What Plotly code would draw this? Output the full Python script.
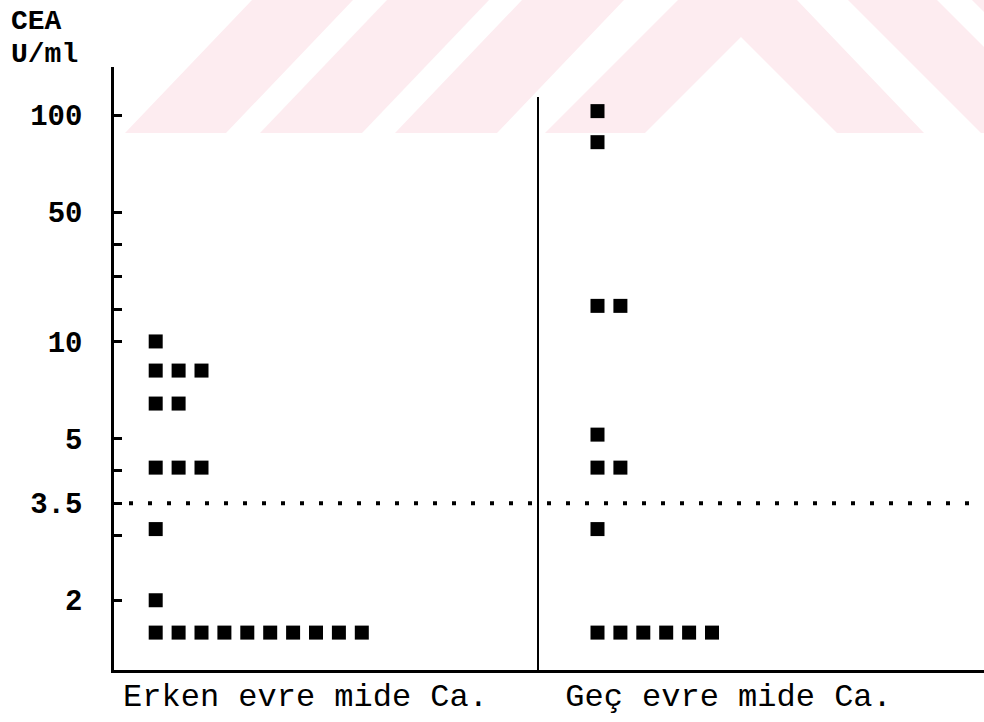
import numpy as np
import plotly.graph_objects as go

# ---------------- data (CEA, U/ml) ----------------
groups = ["Erken evre mide Ca.", "Geç evre mide Ca."]
early_values = [10, 8.5, 8.5, 8.5, 6.8, 6.8, 4.1, 4.1, 4.1, 3.1, 2,
                1.5, 1.5, 1.5, 1.5, 1.5, 1.5, 1.5, 1.5, 1.5, 1.5]
late_values = [102, 86, 21, 21, 5.2, 4.1, 4.1, 3.1,
               1.5, 1.5, 1.5, 1.5, 1.5, 1.5]
cutoff = 3.5

tick_values = [100, 50, 40, 30, 20, 10, 5, 4, 3.5, 3, 2]
tick_labels = ["100", "50", "", "", "", "10", "5", "", "3.5", "", "2"]
y_title = ["CEA", "U/ml"]

# --------------- the figure's own (broken) value scale ---------------
scale_values = [1, 2, 3, 4, 5, 10, 20, 30, 40, 50, 100, 200]
scale_rows = [17, 15, 13, 11, 10, 7, 6, 5, 4, 3, 0, -6]


def scale(v):
    return np.interp(np.asarray(v, dtype=float), scale_values, scale_rows)


# --------------- layout constants (pixels) ---------------
W, H = 984, 722
L, R, T, B = 114, 0, 67, 52
PW, PH = W - L - R, H - T - B
SLOT = 22.9
ROW0_PX, ROW_PX = 115, 32.35
x_max = PW / SLOT
y_top = (T - ROW0_PX) / ROW_PX
y_bot = (H - B - ROW0_PX) / ROW_PX
bases = [(155.7 - L) / SLOT, (597.5 - L) / SLOT]
label_x = [(305.5 - L) / SLOT, (728.5 - L) / SLOT]


def px(x):
    return (x - L) / PW


def py(y):
    return (H - B - y) / PH


def stack(values, base):
    xs, ys = [], []
    seen = {}
    for v in values:
        k = seen.get(v, 0)
        seen[v] = k + 1
        xs.append(base + k)
        ys.append(v)
    return xs, ys


fig = go.Figure()
for name, vals, base in zip(groups, [early_values, late_values], bases):
    xs, ys = stack(vals, base)
    fig.add_trace(go.Scatter(
        x=xs, y=scale(ys), mode="markers", name=name,
        marker=dict(symbol="square", size=14, color="black"),
        customdata=ys, hovertemplate="%{customdata} U/ml<extra></extra>",
        showlegend=False))

# watermark band (decorative)
wm_color = "#fdecf0"
polys = [
    [(125, 133), (226, 133), (353, 0), (252, 0)],
    [(260, 133), (362, 133), (489, 0), (387, 0)],
    [(395, 133), (497, 133), (624, 0), (522, 0)],
    [(545, 133), (678, 0), (797, 0), (924, 133), (837, 133), (741, 37), (645, 133)],
    [(848, 0), (937, 0), (1070, 133), (981, 133)],
    [(972, 0), (1072, 0), (1205, 133), (1105, 133)],
]
shapes = []
for poly in polys:
    path = "M " + " L ".join(f"{px(a):.5f},{py(b):.5f}" for a, b in poly) + " Z"
    shapes.append(dict(type="path", xref="paper", yref="paper", path=path,
                       fillcolor=wm_color, line=dict(width=0), layer="below"))

# divider between groups
shapes.append(dict(type="line", xref="paper", yref="paper",
                   x0=px(538), x1=px(538), y0=0, y1=py(97),
                   line=dict(color="black", width=2)))
# cutoff dotted line at 3.5 U/ml
shapes.append(dict(type="line", xref="paper", yref="y",
                   x0=px(129), x1=1.0, y0=float(scale(cutoff)), y1=float(scale(cutoff)),
                   line=dict(color="black", width=4, dash="4px,15px")))

mono = "Liberation Mono, Courier New, monospace"
annotations = [
    dict(text=y_title[0], xref="paper", yref="paper", x=px(9), y=py(4),
         xanchor="left", yanchor="top", showarrow=False,
         font=dict(family=mono, size=28, color="black", weight="bold")),
    dict(text=y_title[1], xref="paper", yref="paper", x=px(9), y=py(37),
         xanchor="left", yanchor="top", showarrow=False,
         font=dict(family=mono, size=28, color="black", weight="bold")),
]

fig.update_layout(
    width=W, height=H,
    margin=dict(l=L, r=R, t=T, b=B, pad=0),
    paper_bgcolor="white", plot_bgcolor="rgba(0,0,0,0)",
    shapes=shapes, annotations=annotations,
    xaxis=dict(range=[0, x_max], showline=True, linecolor="black", linewidth=2.5,
               showgrid=False, zeroline=False, ticks="",
               tickvals=label_x, ticktext=groups, ticklabelstandoff=-5,
               tickfont=dict(family=mono, size=32, color="black")),
    yaxis=dict(range=[y_bot, y_top], showline=True, linecolor="black", linewidth=2.5,
               showgrid=False, zeroline=False,
               tickvals=list(scale(tick_values)), ticktext=tick_labels,
               ticks="inside", ticklen=8, tickwidth=2.5, tickcolor="black",
               ticklabelstandoff=23,
               tickfont=dict(family=mono, size=29, color="black", weight="bold")),
)

fig.write_html("out.html",
               config={"displayModeBar": False},
               post_script="document.body.style.margin='0';document.body.style.overflow='hidden';")
